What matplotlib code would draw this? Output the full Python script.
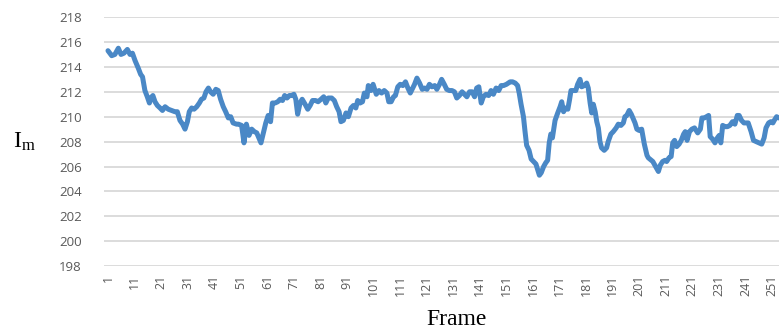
import matplotlib
matplotlib.use("Agg")
import matplotlib.pyplot as plt

# frame index and mean intensity I_m
frame = [1.0, 2.4, 3.6, 4.9, 5.9, 7.0, 8.3, 9.3, 10.2, 11.2, 12.4, 13.3, 14.0, 14.9, 15.8,
         16.6, 17.1, 17.9, 18.7, 19.6, 20.6, 21.5, 22.5, 23.7, 25.0, 26.2, 27.1, 28.1, 29.1,
         30.0, 30.9, 31.6, 32.5, 33.4, 34.4, 35.4, 36.2, 37.1, 37.9, 38.8, 39.6, 40.6, 41.6,
         42.5, 43.4, 44.4, 45.3, 46.3, 47.2, 48.1, 49.4, 50.1, 51.3, 52.2, 53.1, 54.1, 55.1,
         56.1, 57.0, 57.8, 58.6, 59.5, 60.4, 61.3, 62.2, 62.9, 63.9, 64.9, 65.8, 66.7, 67.5,
         68.4, 69.3, 70.1, 71.0, 71.7, 72.4, 73.3, 74.1, 75.2, 76.2, 77.1, 78.0, 79.1, 80.1,
         81.2, 82.2, 83.0, 83.9, 85.2, 86.2, 87.1, 88.0, 88.7, 89.6, 90.6, 91.5, 92.5, 93.4,
         94.3, 95.0, 95.9, 96.8, 97.5, 98.5, 99.0, 100.0, 100.8, 102.0, 103.0, 104.0, 105.0,
         106.0, 106.7, 107.6, 108.5, 109.2, 110.1, 111.0, 112.0, 113.0, 113.9, 114.8, 115.5,
         116.4, 117.3, 118.3, 119.3, 120.2, 121.1, 122.0, 123.0, 124.0, 124.8, 125.8, 126.6,
         127.6, 128.5, 129.5, 130.5, 131.4, 132.3, 133.3, 134.3, 135.2, 136.1, 137.1, 138.1,
         139.0, 139.8, 140.6, 141.5, 142.3, 143.3, 144.3, 145.2, 146.1, 147.1, 148.1, 149.0,
         149.9, 151.0, 152.4, 153.3, 154.3, 155.2, 155.8, 156.5, 157.4, 158.0, 158.6, 159.5,
         160.3, 161.2, 162.1, 162.8, 163.4, 164.1, 165.0, 165.8, 166.5, 167.1, 167.7, 168.3,
         169.3, 170.3, 171.2, 171.8, 172.5, 173.1, 174.1, 174.7, 175.3, 176.2, 177.1, 177.8,
         178.7, 179.3, 180.3, 181.2, 181.8, 182.5, 183.1, 183.7, 184.4, 185.0, 185.6, 186.2,
         186.8, 187.8, 188.7, 189.3, 190.3, 191.2, 192.3, 193.1, 194.1, 195.0, 195.6, 196.3,
         197.2, 198.0, 198.8, 199.4, 200.1, 200.9, 201.9, 202.9, 203.9, 204.4, 206.1, 206.9,
         208.2, 208.9, 209.8, 210.7, 211.3, 212.2, 213.0, 213.6, 214.3, 215.1, 216.0, 216.8,
         217.7, 218.3, 219.0, 219.9, 220.8, 221.8, 223.0, 224.0, 224.6, 225.5, 226.3, 227.1,
         227.7, 228.6, 229.5, 230.4, 231.1, 231.7, 232.4, 233.3, 234.2, 235.1, 236.1, 237.0,
         237.9, 238.6, 239.5, 240.4, 241.1, 242.0, 243.1, 244.0, 245.0, 246.1, 247.1, 248.0,
         248.7, 249.7, 250.5, 251.3, 251.8, 252.7, 253.5]
im = [215.3, 214.9, 215.0, 215.5, 215.0, 215.1, 215.4, 215.0, 215.1, 214.5, 213.9, 213.4,
      213.2, 212.1, 211.6, 211.1, 211.5, 211.7, 211.2, 210.9, 210.7, 210.5, 210.8, 210.6,
      210.5, 210.4, 210.4, 209.7, 209.4, 209.0, 209.6, 210.4, 210.7, 210.6, 210.8, 211.1,
      211.4, 211.5, 212.0, 212.3, 212.0, 211.8, 212.2, 212.1, 211.4, 210.8, 210.4, 209.9,
      210.0, 209.5, 209.4, 209.4, 209.3, 207.9, 209.4, 208.5, 209.0, 208.8, 208.7, 208.3,
      207.9, 208.7, 209.5, 210.1, 209.6, 211.1, 211.1, 211.2, 211.4, 211.3, 211.7, 211.5,
      211.7, 211.7, 211.8, 211.4, 210.2, 211.1, 211.4, 211.0, 210.6, 210.9, 211.3, 211.3,
      211.2, 211.4, 211.6, 211.1, 211.5, 211.5, 211.3, 210.8, 210.4, 209.6, 209.7, 210.3,
      210.0, 210.7, 210.9, 210.7, 211.3, 211.1, 211.2, 211.9, 211.6, 212.5, 212.1, 212.6,
      211.8, 212.1, 211.9, 212.1, 211.9, 211.2, 211.2, 211.6, 211.7, 212.4, 212.6, 212.5,
      212.8, 212.3, 211.9, 212.2, 212.6, 213.1, 212.7, 212.2, 212.3, 212.2, 212.6, 212.4,
      212.5, 212.2, 212.6, 213.0, 212.6, 212.2, 212.1, 212.1, 212.0, 211.5, 211.7, 212.0,
      211.8, 211.6, 212.0, 212.0, 211.6, 212.3, 212.4, 211.1, 211.6, 211.8, 211.7, 212.1,
      211.8, 212.3, 212.1, 212.5, 212.5, 212.6, 212.8, 212.8, 212.7, 212.5, 211.9, 211.0,
      210.0, 208.8, 207.7, 207.3, 206.6, 206.4, 206.2, 205.7, 205.3, 205.5, 206.0, 206.3,
      206.5, 207.9, 208.6, 208.3, 209.7, 210.3, 210.8, 211.2, 210.4, 210.7, 210.6, 211.3,
      212.1, 212.1, 212.1, 212.6, 213.0, 212.4, 212.5, 212.7, 212.3, 211.1, 210.3, 211.0,
      210.4, 209.6, 209.1, 208.0, 207.5, 207.3, 207.5, 208.0, 208.6, 208.8, 209.1, 209.4,
      209.3, 209.5, 210.0, 210.1, 210.5, 210.2, 209.8, 209.5, 209.0, 208.9, 209.0, 207.8,
      206.9, 206.7, 206.4, 206.1, 205.6, 206.1, 206.4, 206.5, 206.4, 206.7, 206.8, 207.9,
      208.1, 207.6, 207.8, 208.1, 208.6, 208.8, 208.1, 208.8, 209.0, 209.1, 208.7, 209.0,
      209.9, 209.9, 210.0, 210.1, 208.4, 208.2, 207.9, 208.3, 208.5, 207.9, 209.3, 209.2,
      209.2, 209.3, 209.6, 209.4, 210.1, 210.1, 209.7, 209.5, 209.5, 209.5, 208.8, 208.1,
      208.0, 207.9, 207.8, 208.3, 209.1, 209.5, 209.6, 209.5, 209.7, 210.0, 209.9]

x_ticks = list(range(1, 252, 10))
y_ticks = list(range(198, 219, 2))

plt.rcParams['mathtext.fontset'] = 'custom'
plt.rcParams['mathtext.rm'] = 'Liberation Serif'

fig = plt.figure(figsize=(7.79, 3.31), dpi=100)
ax = fig.add_axes([0.1335, 0.196, 0.8665, 0.7524])

ax.plot(frame, im, color='#4a88c6', lw=3.6, solid_joinstyle='round', solid_capstyle='round',
        zorder=3, clip_on=False)

ax.set_xlim(-0.5, 253.6)
ax.set_ylim(198, 218)
ax.set_yticks(y_ticks)
ax.set_xticks(x_ticks)
ax.set_xticklabels([str(t) for t in x_ticks], rotation=90, fontsize=9, family='Open Sans',
                   color='#595959')
ax.set_yticklabels([str(t) for t in y_ticks], fontsize=9.5, family='Open Sans', color='#595959')
ax.tick_params(axis='both', length=0)
ax.tick_params(axis='x', pad=6)
ax.tick_params(axis='y', pad=16)

ax.grid(axis='y', color='#d9d9d9', lw=1.3)
ax.set_axisbelow(True)
for s in ax.spines.values():
    s.set_visible(False)

fig.text(0.031, 0.575, r'$\mathrm{I_m}$', fontsize=17, ha='center', va='center')
fig.text(0.586, 0.035, 'Frame', fontsize=17, family='Liberation Serif', ha='center', va='center')

fig.savefig('out.png', dpi=100)
